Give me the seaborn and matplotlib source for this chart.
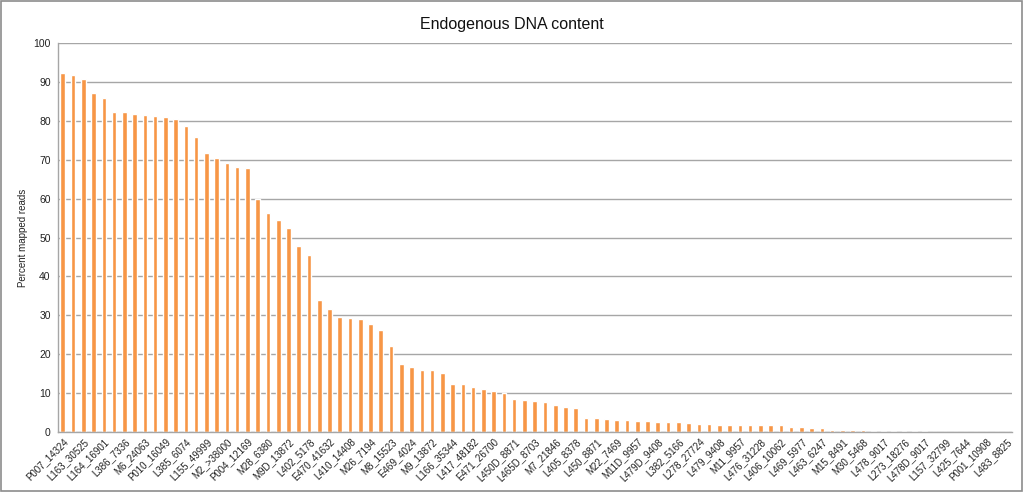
import matplotlib
matplotlib.use("Agg")
import matplotlib.pyplot as plt
import seaborn as sns
import pandas as pd
import numpy as np
from matplotlib.patches import Rectangle

# Every other sample is labelled on the axis (as in the reference)
tick_labels = [
    "P007_14324", "L163_30525", "L164_16901", "L386_7336", "M6_24063", "P010_16049",
    "L385_6074", "L155_49999", "M2_>38000", "P004_12169", "M28_6380", "M9D_13872",
    "L402_5178", "E470_41632", "L410_14408", "M26_7194", "M8_15523", "E469_4024",
    "M9_13872", "L166_35344", "L417_48182", "E471_26700", "L450D_8871", "L465D_8703",
    "M7_21846", "L405_8378", "L450_8871", "M22_7469", "M11D_9957", "L479D_9408",
    "L382_5166", "L278_27724", "L479_9408", "M11_9957", "L476_31228", "L406_10062",
    "L469_5977", "L463_6247", "M15_8491", "M30_5468", "L478_9017", "L273_18276",
    "L478D_9017", "L157_32799", "L425_7644", "P001_10908", "L483_8825",
]

percent_mapped = [
    92.1, 91.6, 90.8, 87.0, 85.8, 82.3, 82.3, 81.7, 81.4, 81.1,
    80.9, 80.3, 78.5, 75.9, 71.6, 70.4, 69.2, 68.2, 67.9, 60.0,
    56.4, 54.6, 52.4, 47.9, 45.4, 34.0, 31.7, 29.5, 29.3, 29.1,
    27.7, 26.2, 22.1, 17.6, 16.7, 16.1, 16.1, 15.3, 12.3, 12.3,
    11.6, 11.0, 10.7, 10.0, 8.6, 8.4, 8.1, 7.7, 6.9, 6.4,
    6.2, 3.8, 3.8, 3.3, 3.1, 3.1, 2.9, 2.9, 2.7, 2.7,
    2.7, 2.5, 2.2, 2.2, 2.0, 2.0, 2.0, 1.9, 1.9, 1.9,
    1.9, 1.4, 1.4, 1.0, 1.0, 0.7, 0.7, 0.7, 0.7, 0.35,
    0.35, 0.35, 0.35, 0.35, 0.35, 0.15, 0.15, 0.15, 0.15, 0.05,
    0.04, 0.03, 0.02,
]

sample_index = list(range(len(percent_mapped)))

sns.set_theme(style="white")
plt.rcParams["font.family"] = ["Liberation Sans", "DejaVu Sans"]

fig = plt.figure(figsize=(10.24, 4.92), dpi=100)
ax = fig.add_axes([0.0563, 0.1213, 0.9317, 0.7919])

df = pd.DataFrame({"sample": sample_index, "pct": percent_mapped})
sns.barplot(data=df, x="sample", y="pct", color="#F79646", saturation=1,
            width=0.45, ax=ax)

ax.set_xlim(-0.5, len(percent_mapped) - 0.5)
ax.set_ylim(0, 100)
ax.set_yticks(np.arange(0, 101, 10))
ax.yaxis.grid(True, color="#A6A6A6", linewidth=1.0)
ax.set_axisbelow(True)
ax.tick_params(axis="y", labelsize=7.5, colors="#222222", length=0, pad=5)

ax.set_xticks(sample_index[::2])
ax.set_xticklabels(tick_labels, rotation=45, ha="right", rotation_mode="anchor",
                   fontsize=7, color="#222222")
ax.tick_params(axis="x", length=0, pad=3)

for side in ["top", "right"]:
    ax.spines[side].set_visible(False)
for side in ["left", "bottom"]:
    ax.spines[side].set_visible(True)
    ax.spines[side].set_color("#A6A6A6")
    ax.spines[side].set_linewidth(1.0)

ax.set_xlabel("")
ax.set_ylabel("Percent mapped reads", fontsize=7, color="#222222")
ax.yaxis.set_label_coords(-0.031, 0.5)

fig.suptitle("Endogenous DNA content", fontsize=11.5, y=0.965, color="#111111")

fig.patches.append(Rectangle((0.001, 0.002), 0.997, 0.996, transform=fig.transFigure,
                             fill=False, edgecolor="#8C8C8C", linewidth=1.2))

fig.savefig("out.png", dpi=100)
